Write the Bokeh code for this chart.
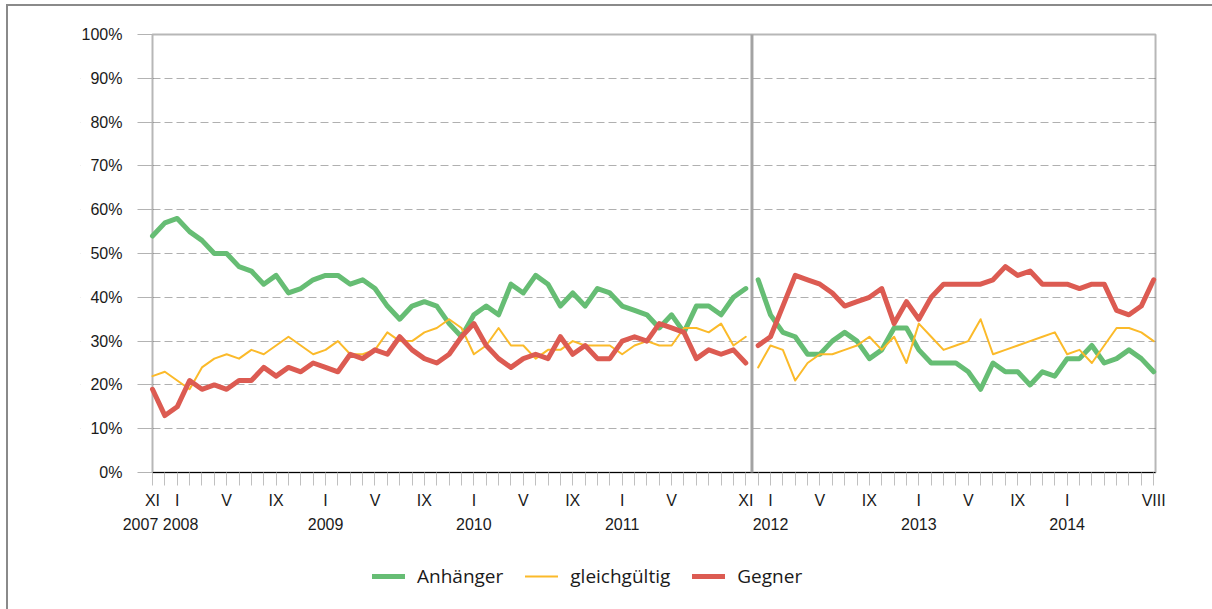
from bokeh.plotting import figure
from bokeh.models import (Range1d, FixedTicker, LinearAxis, Legend, LegendItem, BoxAnnotation)
from bokeh.embed import file_html
from bokeh.resources import INLINE

# ---- data (month index 0 = XI 2007 ... 81 = VIII 2014) ----
months = list(range(82))
break_after = 48  # series restarts at index 49 (XII 2011)

anhaenger = [54, 57, 58, 55, 53, 50, 50, 47, 46, 43, 45, 41, 42, 44, 45, 45, 43,
             44, 42, 38, 35, 38, 39, 38, 34, 31, 36, 38, 36, 43, 41, 45, 43,
             38, 41, 38, 42, 41, 38, 37, 36, 33, 36, 32, 38, 38, 36, 40, 42,
             44, 36, 32, 31, 27, 27, 30, 32, 30, 26, 28, 33, 33, 28, 25, 25,
             25, 23, 19, 25, 23, 23, 20, 23, 22, 26, 26, 29, 25, 26, 28, 26, 23]
gleichgueltig = [22, 23, 21, 19, 24, 26, 27, 26, 28, 27, 29, 31, 29, 27, 28, 30, 27,
                 27, 28, 32, 30, 30, 32, 33, 35, 33, 27, 29, 33, 29, 29, 26, 28,
                 28, 30, 29, 29, 29, 27, 29, 30, 29, 29, 33, 33, 32, 34, 29, 31,
                 24, 29, 28, 21, 25, 27, 27, 28, 29, 31, 28, 31, 25, 34, 31, 28,
                 29, 30, 35, 27, 28, 29, 30, 31, 32, 27, 28, 25, 29, 33, 33, 32, 30]
gegner = [19, 13, 15, 21, 19, 20, 19, 21, 21, 24, 22, 24, 23, 25, 24, 23, 27,
          26, 28, 27, 31, 28, 26, 25, 27, 31, 34, 29, 26, 24, 26, 27, 26,
          31, 27, 29, 26, 26, 30, 31, 30, 34, 33, 32, 26, 28, 27, 28, 25,
          29, 31, 38, 45, 44, 43, 41, 38, 39, 40, 42, 34, 39, 35, 40, 43,
          43, 43, 43, 44, 47, 45, 46, 43, 43, 43, 42, 43, 43, 37, 36, 38, 44]

month_tick_pos = [0, 2, 6, 10, 14, 18, 22, 26, 30, 34, 38, 42, 48, 50, 54, 58, 62, 66, 70, 74, 81]
month_tick_lbl = ["XI", "I", "V", "IX", "I", "V", "IX", "I", "V", "IX", "I", "V", "XI",
                  "I", "V", "IX", "I", "V", "IX", "I", "VIII"]
# 2007 and 2008 sit side by side under XI / I
year_pos = [0.65, 14, 26, 38, 50, 62, 74]
year_lbl = ["2007 2008", "2009", "2010", "2011", "2012", "2013", "2014"]
y_ticks = [0, 10, 20, 30, 40, 50, 60, 70, 80, 90, 100]

series = [("Anhänger", anhaenger, "#66BD74", 5),
          ("gleichgültig", gleichgueltig, "#FBBA2A", 2),
          ("Gegner", gegner, "#DC5B52", 5)]

AXIS_FONT = "Liberation Sans"
X_END = 81.15

# The frame is larger than the data box so that axis labels and the legend
# are drawn inside it; axes are pinned at 0 and the data box is an annotation.
p = figure(frame_width=1127, frame_height=576, output_backend="svg", toolbar_location=None,
           x_range=Range1d(-5.825, 85.355), y_range=Range1d(-29.22, 102.285),
           min_border_left=72, min_border_right=5, min_border_top=18, min_border_bottom=10)
p.styles = {"border-top": "2px solid #8a8a8a", "border-left": "2px solid #8a8a8a",
            "margin-top": "4px", "margin-left": "6px"}
p.background_fill_color = "white"
p.border_fill_color = "white"
p.outline_line_color = None

# grid (only inside the data box)
p.xgrid.visible = False
p.ygrid.ticker = FixedTicker(ticks=y_ticks[1:-1])
p.ygrid.grid_line_color = "#b0b0b0"
p.ygrid.grid_line_dash = "8 4"
p.ygrid.grid_line_width = 1
p.add_layout(BoxAnnotation(right=0, fill_color="white", fill_alpha=1, line_color=None,
                           level="underlay"))
p.add_layout(BoxAnnotation(left=X_END, fill_color="white", fill_alpha=1, line_color=None,
                           level="underlay"))

# data box outline
p.add_layout(BoxAnnotation(left=0, right=X_END, bottom=0, top=100, fill_alpha=0,
                           line_color="#111111", line_width=2, level="underlay"))

# y axis
ya_ = p.yaxis[0]
ya_.fixed_location = 0
ya_.bounds = (0, 100)
ya_.ticker = FixedTicker(ticks=y_ticks)
ya_.major_label_overrides = {t: f"{t}%" for t in y_ticks}
ya_.axis_line_color = None
ya_.major_tick_line_color = "#b3b3b3"
ya_.major_tick_out = 15
ya_.major_tick_in = 0
ya_.minor_tick_line_color = None
ya_.major_label_standoff = 15
ya_.major_label_text_font = AXIS_FONT
ya_.major_label_text_font_size = "16px"
ya_.major_label_text_color = "#1a1a1a"

# x axis (months)
xa = p.xaxis[0]
xa.fixed_location = 0
xa.bounds = (0, X_END)
xa.ticker = FixedTicker(ticks=months)
ov = {m: "" for m in months}
for pos, lbl in zip(month_tick_pos, month_tick_lbl):
    ov[pos] = lbl
xa.major_label_overrides = ov
xa.axis_line_color = "black"
xa.major_tick_line_color = "#c0c0c0"
xa.major_tick_out = 13
xa.major_tick_in = 0
xa.minor_tick_line_color = None
xa.major_label_standoff = 6
xa.major_label_text_font = AXIS_FONT
xa.major_label_text_font_size = "16px"
xa.major_label_text_color = "#1a1a1a"

# year axis
yr = LinearAxis(ticker=FixedTicker(ticks=year_pos), fixed_location=0,
                major_label_overrides={pos: lbl for pos, lbl in zip(year_pos, year_lbl)})
yr.axis_line_color = None
yr.major_tick_line_color = None
yr.minor_tick_line_color = None
yr.major_tick_out = 0
yr.major_tick_in = 0
yr.major_label_standoff = 43
yr.major_label_text_font = AXIS_FONT
yr.major_label_text_font_size = "16px"
yr.major_label_text_color = "#1a1a1a"
p.add_layout(yr, "below")

# separator between the two survey periods
p.add_layout(BoxAnnotation(left=break_after + 0.38, right=break_after + 0.62, bottom=0, top=100,
                           fill_color="#a3a3a3", fill_alpha=1, line_color=None))

items = []
for name, vals, col, w in series:
    r1 = p.line(months[:break_after + 1], vals[:break_after + 1], line_color=col,
                line_width=w, line_join="round", line_cap="round")
    p.line(months[break_after + 1:], vals[break_after + 1:], line_color=col,
           line_width=w, line_join="round", line_cap="round")
    items.append(LegendItem(label=name, renderers=[r1]))

legend = Legend(items=items, orientation="horizontal", location=(292, 11),
                glyph_width=33, glyph_height=20, label_standoff=12, spacing=22,
                padding=0, margin=0, border_line_color=None, background_fill_alpha=0,
                label_text_font="Open Sans", label_text_font_size="19px",
                label_text_color="#1a1a1a")
p.add_layout(legend, "center")

open("out.html", "w").write(file_html(p, INLINE))
